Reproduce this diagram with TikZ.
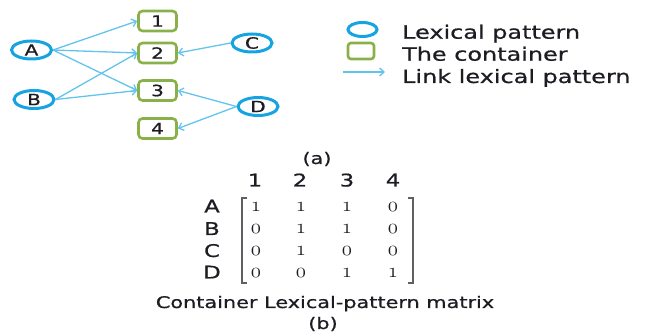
\documentclass[tikz,border=0pt]{standalone}
\usepackage{fontspec}
\setmainfont{DejaVu Sans}[FakeStretch=1.3, FakeBold=0.7]
\usetikzlibrary{arrows.meta,shapes.geometric}

\definecolor{lexblue}{RGB}{22,163,226}
\definecolor{boxgreen}{RGB}{138,176,74}
\definecolor{linkblue}{RGB}{98,196,236}
\definecolor{ink}{RGB}{28,28,34}
\definecolor{bracketgray}{RGB}{95,95,100}

% old-style figures from the Latin Modern math italic font
\newcommand\osfig[1]{{\usefont{OML}{lmm}{m}{it}#1}}

\tikzset{
  lexnode/.style={ellipse, draw=lexblue, line width=3pt, minimum width=40pt,
    minimum height=18pt, inner sep=0pt, text=ink, font=\fontsize{15.5}{15.5}\selectfont},
  boxnode/.style={rectangle, rounded corners=4pt, draw=boxgreen, line width=2.6pt,
    minimum width=38pt, minimum height=20pt, inner sep=0pt, text=ink,
    font=\fontsize{15.5}{15.5}\selectfont},
  linkarrow/.style={draw=linkblue, line width=1.3pt,
    -{Straight Barb[length=4.5pt,width=8pt]}},
  legendtext/.style={anchor=base west, inner sep=0pt, text=ink,
    font=\fontsize{18.4}{18.4}\selectfont},
  captext/.style={anchor=base, inner sep=0pt, text=ink,
    font=\fontsize{16}{16}\selectfont},
  headtext/.style={anchor=base, inner sep=0pt, text=ink,
    text height=12pt, text depth=0pt, font=\fontsize{17.5}{17.5}\selectfont},
  entry/.style={anchor=base, inner sep=0pt, text=ink,
    text height=9pt, text depth=0pt, font=\fontsize{20.5}{20.5}\selectfont},
}

\begin{document}
\begin{tikzpicture}[x=1pt, y=-1pt]
\useasboundingbox (0,0) rectangle (646,336);

% lexical patterns
\node[lexnode] (A) at (31.5,50) {A};
\node[lexnode] (B) at (34,99.5) {B};
\node[lexnode] (C) at (252,43) {C};
\node[lexnode] (D) at (258,106.5) {D};

% containers
\node[boxnode] (k1) at (157.5,21) {1};
\node[boxnode] (k2) at (157.5,53) {2};
\node[boxnode] (k3) at (157.5,90.5) {3};
\node[boxnode] (k4) at (157.5,128.5) {4};

% links
\draw[linkarrow] (A.east) -- (k1.west);
\draw[linkarrow] (A.east) -- (k2.west);
\draw[linkarrow] (A.east) -- (k3.west);
\draw[linkarrow] (B.east) -- (k2.west);
\draw[linkarrow] (B.east) -- (k3.west);
\draw[linkarrow] (C.west) -- (k2.east);
\draw[linkarrow] (D.west) -- (k3.east);
\draw[linkarrow] (D.west) -- (k4.east);

% legend
\node[lexnode, minimum width=29pt, minimum height=14pt] (legL) at (362.5,29.5) {};
\node[boxnode, minimum width=26pt, minimum height=16pt, rounded corners=3pt] (legC) at (361,51) {};
\coordinate (legS) at (343,72);
\coordinate (legE) at (385,72);
\draw[linkarrow] (legS) -- (legE);
\node[legendtext] (t1) at (402,38.7) {Lexical pattern};
\node[legendtext] (t2) at (402,60.7) {The container};
\node[legendtext] (t3) at (402,83) {Link lexical pattern};

\node[captext] (capa) at (317,164) {(a)};

% matrix header and row labels
\foreach \c/\x in {1/255,2/300,3/347,4/393}
  \node[headtext] (h\c) at (\x,186.5) {\c};
\foreach \r/\y in {A/212.5,B/235,C/257,D/278.5}
  \node[headtext] (r\r) at (212,\y) {\r};

% matrix entries
\foreach \r/\y/\a/\b/\cc/\d in {A/211.5/1/1/1/0, B/234/0/1/1/0, C/256/0/1/0/0, D/277.5/0/0/1/1}{
  \node[entry] (e\r1) at (256,\y) {\osfig{\a}};
  \node[entry] (e\r2) at (301,\y) {\osfig{\b}};
  \node[entry] (e\r3) at (347,\y) {\osfig{\cc}};
  \node[entry] (e\r4) at (393,\y) {\osfig{\d}};
}

% brackets
\draw[bracketgray, line width=1.5pt] (247,198) -- (242,198) -- (242,283) -- (247,283);
\draw[bracketgray, line width=1.5pt] (408,198) -- (413,198) -- (413,283) -- (408,283);

\node[captext] (capm) at (325,308) {Container Lexical-pattern matrix};
\node[captext] (capb) at (323,329) {(b)};
\end{tikzpicture}
\end{document}
